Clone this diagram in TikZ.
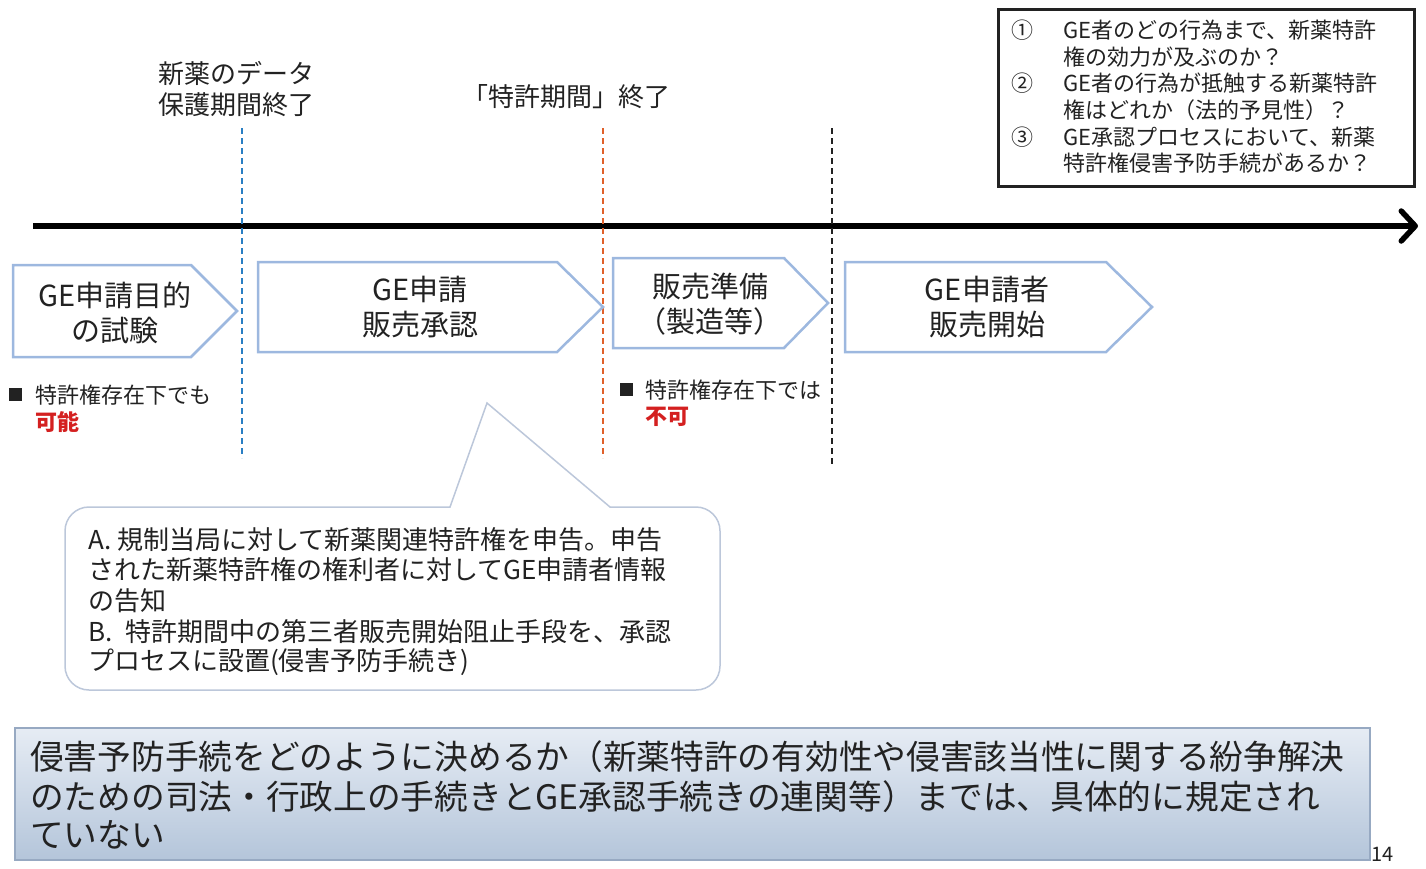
\documentclass[tikz,border=0pt]{standalone}
\usepackage{fontspec}
\setmainfont{Noto Sans CJK JP}
\usetikzlibrary{arrows.meta}
\definecolor{chev}{HTML}{9DB8DF}
\definecolor{dblue}{HTML}{2A7FC4}
\definecolor{dorange}{HTML}{E0602A}
\definecolor{rtxt}{HTML}{D42020}
\definecolor{callln}{HTML}{BCC7DA}
\definecolor{btop}{HTML}{E6ECF4}
\definecolor{bbot}{HTML}{B4C5DA}
\definecolor{bline}{HTML}{97A9C2}
\definecolor{txt}{HTML}{222222}
\newcommand{\fs}[2]{\fontsize{#1}{#2}\selectfont}
\tikzset{
  chevron/.style={draw=chev, line width=2.5pt, fill=white, line join=miter},
  t/.style={inner sep=0pt, text=txt},
  vdash/.style={line width=1.4pt, dash pattern=on 6pt off 4pt},
  f22/.style={font=\fs{22}{26.5}},
  f26/.style={font=\fs{26}{31}},
  f29/.style={font=\fs{29}{35}},
  f25/.style={font=\fs{26}{30.5}},
  f34/.style={font=\fs{33.7}{39}},
}
\begin{document}
\begin{tikzpicture}[x=1pt,y=-1pt]
\useasboundingbox (0,0) rectangle (1426,868);

% timeline
\coordinate (tl0) at (33,226);
\coordinate (tl1) at (1418,226);
\draw[line width=5.5pt, -{Straight Barb[length=14pt,width=30pt,line cap=round,line join=round]}] (tl0) -- (tl1);

% dashed lines
\coordinate (b0) at (242,128); \coordinate (b1) at (242,458);
\coordinate (o0) at (603,128); \coordinate (o1) at (603,458);
\coordinate (k0) at (832,128); \coordinate (k1) at (832,467);
\draw[vdash, draw=dblue] (b0) -- (b1);
\draw[vdash, draw=dorange] (o0) -- (o1);
\draw[vdash, draw=txt] (k0) -- (k1);

% labels above
\node[t, f26, align=left, anchor=center] (lab1) at (236,89) {新薬のデータ\\保護期間終了};
\node[t, f26, anchor=center] (lab2) at (566,97) {「特許期間」終了};

% question box
\node[draw=txt, line width=3pt, minimum width=416pt, minimum height=177pt, anchor=north west, inner sep=0pt] (qbox) at (997,8) {};
\node[t, f22, anchor=center] (m1) at (1022,30) {①};
\node[t, f22, anchor=center] (m2) at (1022,83) {②};
\node[t, f22, anchor=center] (m3) at (1022,137) {③};
\node[t, f22, anchor=west] (q1) at (1063,30) {GE者のどの行為まで、新薬特許};
\node[t, f22, anchor=west] (q2) at (1063,57) {権の効力が及ぶのか？};
\node[t, f22, anchor=west] (q3) at (1063,83) {GE者の行為が抵触する新薬特許};
\node[t, f22, anchor=west] (q4) at (1063,110) {権はどれか（法的予見性）？};
\node[t, f22, anchor=west] (q5) at (1063,137) {GE承認プロセスにおいて、新薬};
\node[t, f22, anchor=west] (q6) at (1063,163) {特許権侵害予防手続があるか？};

% chevrons
\draw[chevron] (13,265) -- (191,265) -- (237,311) -- (191,357) -- (13,357) -- cycle;
\draw[chevron] (258,262) -- (557,262) -- (603,307) -- (557,352) -- (258,352) -- cycle;
\draw[chevron] (613,258) -- (784,258) -- (828,303) -- (784,348) -- (613,348) -- cycle;
\draw[chevron] (845,262) -- (1106,262) -- (1152,307) -- (1106,352) -- (845,352) -- cycle;
\node[t, f29, align=center] (c1) at (115,313) {GE申請目的\\の試験};
\node[t, f29, align=center] (c2) at (420,307) {GE申請\\販売承認};
\node[t, f29, align=center] (c3) at (710,304) {販売準備\\（製造等）};
\node[t, f29, align=center] (c4) at (987,307) {GE申請者\\販売開始};

% bullets
\fill[txt] (9,388) rectangle (22,401);
\node[t, f22, anchor=west] (n1) at (35,395) {特許権存在下でも};
\node[t, anchor=west, text=rtxt, font=\fs{22}{26}\bfseries] (n1r) at (35,422) {可能};
\fill[txt] (620,383) rectangle (633,396);
\node[t, f22, anchor=west] (n2) at (645,390) {特許権存在下では};
\node[t, anchor=west, text=rtxt, font=\fs{22}{26}\bfseries] (n2r) at (645,417) {不可};

% callout
\draw[draw=callln, line width=1.5pt, fill=white]
  (610,507) [rounded corners=24pt] -- (720,507) -- (720,690) -- (65,690) -- (65,507) [sharp corners] -- (450,507) -- (487,403) -- cycle;
\node[t, f25, anchor=west] (a1) at (88,540) {A. 規制当局に対して新薬関連特許権を申告。申告};
\node[t, f25, anchor=west] (a2) at (88,570) {された新薬特許権の権利者に対してGE申請者情報};
\node[t, f25, anchor=west] (a3) at (88,601) {の告知};
\node[t, f25, anchor=west] (a4) at (88,632) {B.\enspace 特許期間中の第三者販売開始阻止手段を、承認};
\node[t, f25, anchor=west] (a5) at (88,662) {プロセスに設置(侵害予防手続き)};

% bottom box
\shade[top color=btop, bottom color=bbot] (15,728) rectangle (1370,860);
\draw[draw=bline, line width=1.2pt] (15,728) rectangle (1370,860);
\node[t, f34, anchor=west] (s1) at (30,757) {侵害予防手続をどのように決めるか（新薬特許の有効性や侵害該当性に関する紛争解決};
\node[t, f34, anchor=west] (s2) at (30,797) {のための司法・行政上の手続きとGE承認手続きの連関等）までは、具体的に規定され};
\node[t, f34, anchor=west] (s3) at (30,835) {ていない};

\node[t, anchor=west, font=\fs{20}{24}] (pg) at (1371,854) {14};
\end{tikzpicture}
\end{document}
